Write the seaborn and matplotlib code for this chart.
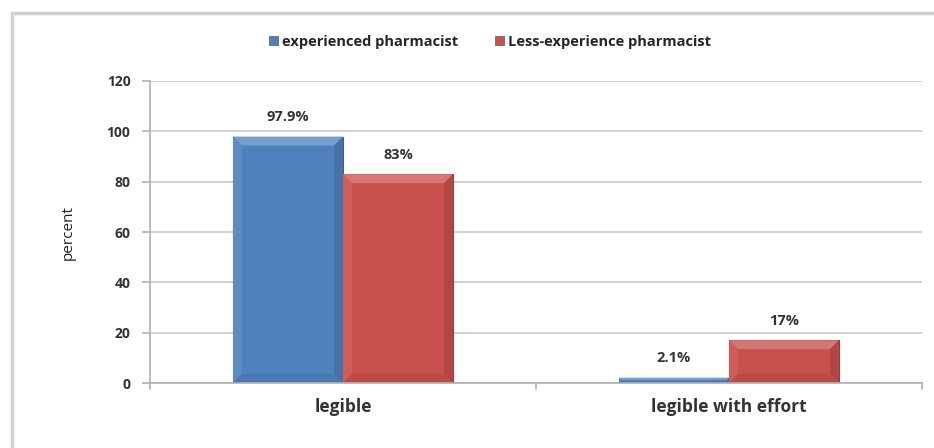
import matplotlib
matplotlib.use("Agg")
import matplotlib.pyplot as plt
import seaborn as sns
import pandas as pd
from matplotlib.patches import Rectangle, Polygon
from matplotlib.colors import to_rgb

categories = ["legible", "legible with effort"]
series_names = ["experienced pharmacist", "Less-experience pharmacist"]
experienced = [97.9, 2.1]
less_experienced = [83, 17]
value_labels_exp = ["97.9%", "2.1%"]
value_labels_less = ["83%", "17%"]
y_ticks = [0, 20, 40, 60, 80, 100, 120]

sns.set_theme(style="white")
plt.rcParams["font.family"] = ["Open Sans", "DejaVu Sans"]

df = pd.DataFrame({
    "category": categories * 2,
    "series": [series_names[0]] * 2 + [series_names[1]] * 2,
    "value": experienced + less_experienced,
})

colors = {series_names[0]: "#4F81BD", series_names[1]: "#C9504D"}

fig = plt.figure(figsize=(9.34, 4.48), dpi=100)
ax = fig.add_axes([150 / 934, 65 / 448, 772 / 934, 302 / 448])

sns.barplot(data=df, x="category", y="value", hue="series", order=categories,
            hue_order=series_names, palette=colors, width=0.57, ax=ax,
            saturation=1, edgecolor="none", legend=False)

ax.set_ylim(0, 120)
ax.set_xlim(-0.5, 1.5)
ax.set_yticks(y_ticks)
ax.set_yticklabels([str(t) for t in y_ticks], fontsize=10, fontweight="bold", color="#333333")
ax.set_xticks([])
for i, c in enumerate(categories):
    ax.text(i, -6, c, ha="center", va="top", fontsize=12.5, fontweight="bold",
            color="#333333", transform=ax.transData)

ax.grid(axis="y", color="#C8C8C8", linewidth=1.2)
ax.set_axisbelow(True)
for s in ["top", "right"]:
    ax.spines[s].set_visible(False)
ax.spines["left"].set_color("#B0B0B0")
ax.spines["bottom"].set_color("#B0B0B0")
ax.spines["left"].set_linewidth(1.2)
ax.spines["bottom"].set_linewidth(1.2)
ax.tick_params(axis="y", length=6, color="#B0B0B0", width=1.2, left=True, pad=8)

for xv in [-0.5, 0.5, 1.5]:
    ax.plot([xv, xv], [0, -2.5], color="#B0B0B0", lw=1.2, clip_on=False)

ax.set_xlabel("")
ax.set_ylabel("percent", fontsize=11, color="#222222", labelpad=22)

# bevel shading on each bar (derived from the bar patches)
fig.canvas.draw()
inv = ax.transData.inverted()


def shade(rgb, f):
    if f > 0:
        return tuple(c + (1 - c) * f for c in rgb)
    return tuple(c * (1 + f) for c in rgb)


for container in ax.containers:
    for bar in container:
        base = to_rgb(bar.get_facecolor())
        bb = bar.get_window_extent()
        x0, y0, x1, y1 = bb.x0, bb.y0, bb.x1, bb.y1
        b = min(9.0, (y1 - y0) / 2.0, (x1 - x0) / 2.0)
        pts = {
            "top": [(x0, y1), (x1, y1), (x1 - b, y1 - b), (x0 + b, y1 - b)],
            "left": [(x0, y0), (x0, y1), (x0 + b, y1 - b), (x0 + b, y0 + b)],
            "right": [(x1, y0), (x1, y1), (x1 - b, y1 - b), (x1 - b, y0 + b)],
            "bottom": [(x0, y0), (x1, y0), (x1 - b, y0 + b), (x0 + b, y0 + b)],
        }
        fac = {"top": 0.22, "left": 0.08, "right": -0.12, "bottom": -0.06}
        for k, p in pts.items():
            dp = inv.transform(p)
            ax.add_patch(Polygon(dp, closed=True, facecolor=shade(base, fac[k]),
                                 edgecolor="none", zorder=bar.get_zorder() + 0.1))
        bar.set_edgecolor(shade(base, -0.25))
        bar.set_linewidth(0.8)

for container, labels in zip(ax.containers, [value_labels_exp, value_labels_less]):
    ax.bar_label(container, labels=labels, padding=9, fontsize=10.5,
                 fontweight="bold", color="#333333")

handles = [Rectangle((0, 0), 1, 1, facecolor=colors[s], edgecolor="#555555", linewidth=0.5)
           for s in series_names]
fig.legend(handles, series_names, loc="center", bbox_to_anchor=(490 / 934, 1 - 42 / 448),
           ncol=2, frameon=False, handlelength=0.6, handleheight=0.6,
           handletextpad=0.3, columnspacing=2.5, prop={"weight": "bold", "size": 10.5})

fig.patches.append(Rectangle((12 / 934, -0.1), 1.1, 1 - 13 / 448 + 0.1,
                             transform=fig.transFigure, fill=False,
                             edgecolor="#D0D0D0", linewidth=2.5))

fig.savefig("out.png", dpi=100, facecolor="white")
